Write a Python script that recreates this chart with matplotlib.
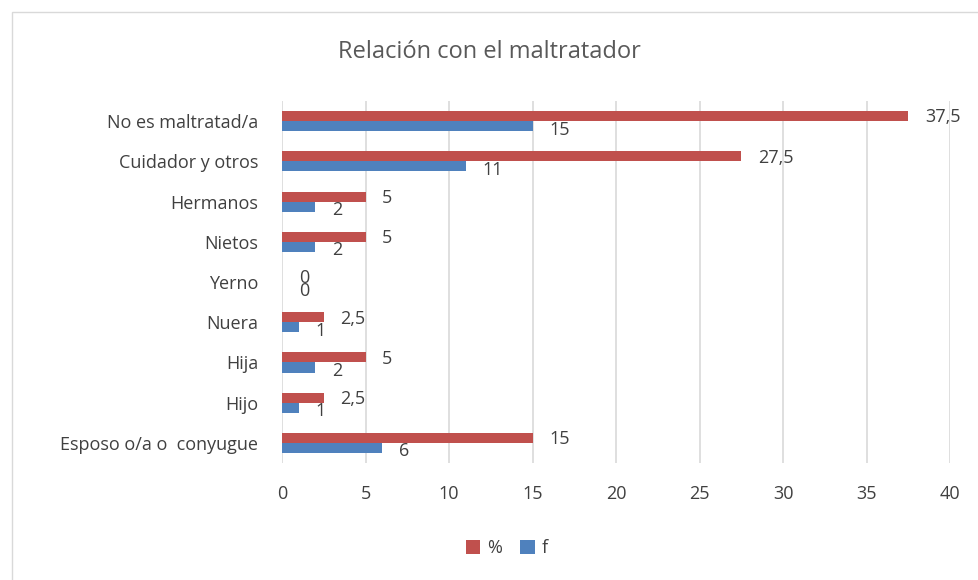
import matplotlib
matplotlib.use("Agg")
import matplotlib.pyplot as plt
from matplotlib.patches import Rectangle
import numpy as np

categories = ["Esposo o/a o  conyugue", "Hijo", "Hija", "Nuera", "Yerno",
              "Nietos", "Hermanos", "Cuidador y otros", "No es maltratad/a"]
pct = [15, 2.5, 5, 2.5, 0, 5, 5, 27.5, 37.5]
freq = [6, 1, 2, 1, 0, 2, 2, 11, 15]
xticks = [0, 5, 10, 15, 20, 25, 30, 35, 40]

plt.rcParams['font.family'] = ['Open Sans', 'DejaVu Sans']
RED = "#C0504D"
BLUE = "#4F81BD"
TXT = "#404040"
FS = 13

fig = plt.figure(figsize=(9.79, 5.80), dpi=100)
fig.patches.append(Rectangle((12/979, -0.1), 1.2, 1 - 12/580 + 0.1,
                             transform=fig.transFigure, fill=False,
                             edgecolor="#D9D9D9", linewidth=1.0))
ax = fig.add_axes([282/979, 1 - 463/580, (950 - 282)/979, (463 - 101)/580])

y = np.arange(len(categories))
h = 0.25
ax.barh(y + h/2, pct, height=h, color=RED, label="%", zorder=3)
ax.barh(y - h/2, freq, height=h, color=BLUE, label="f", zorder=3)

def fmt(v):
    s = f"{v:g}"
    return s.replace(".", ",")

for yi, p, f in zip(y, pct, freq):
    ax.annotate(fmt(p), (p, yi + h/2), xytext=(12, -1.0), textcoords="offset points",
                va="center", ha="left", fontsize=FS, color=TXT)
    ax.annotate(fmt(f), (f, yi - h/2), xytext=(12, -2.5), textcoords="offset points",
                va="center", ha="left", fontsize=FS, color=TXT)

ax.set_xlim(0, 40)
ax.set_ylim(-0.5, len(categories) - 0.5)
ax.set_xticks(xticks)
ax.set_xticklabels([str(t) for t in xticks])
ax.set_yticks(y)
ax.set_yticklabels(categories)
ax.tick_params(axis="x", length=0, pad=16, labelsize=FS, labelcolor=TXT)
ax.tick_params(axis="y", length=0, pad=17, labelsize=FS, labelcolor=TXT)
ax.grid(axis="x", color="#D9D9D9", linewidth=1.2, zorder=0)
for s in ax.spines.values():
    s.set_visible(False)

fig.text(0.5, 1 - 52/580, "Relación con el maltratador", ha="center", va="center",
         fontsize=17, color="#595959")

handles, labels = ax.get_legend_handles_labels()
fig.legend(handles, labels, loc="center", bbox_to_anchor=(507/979, 1 - 548/580),
           ncol=2, frameon=False, fontsize=FS, handlelength=0.8, handleheight=0.8,
           handletextpad=0.4, columnspacing=1.0, labelcolor=TXT)

fig.savefig("out.png", dpi=100)
